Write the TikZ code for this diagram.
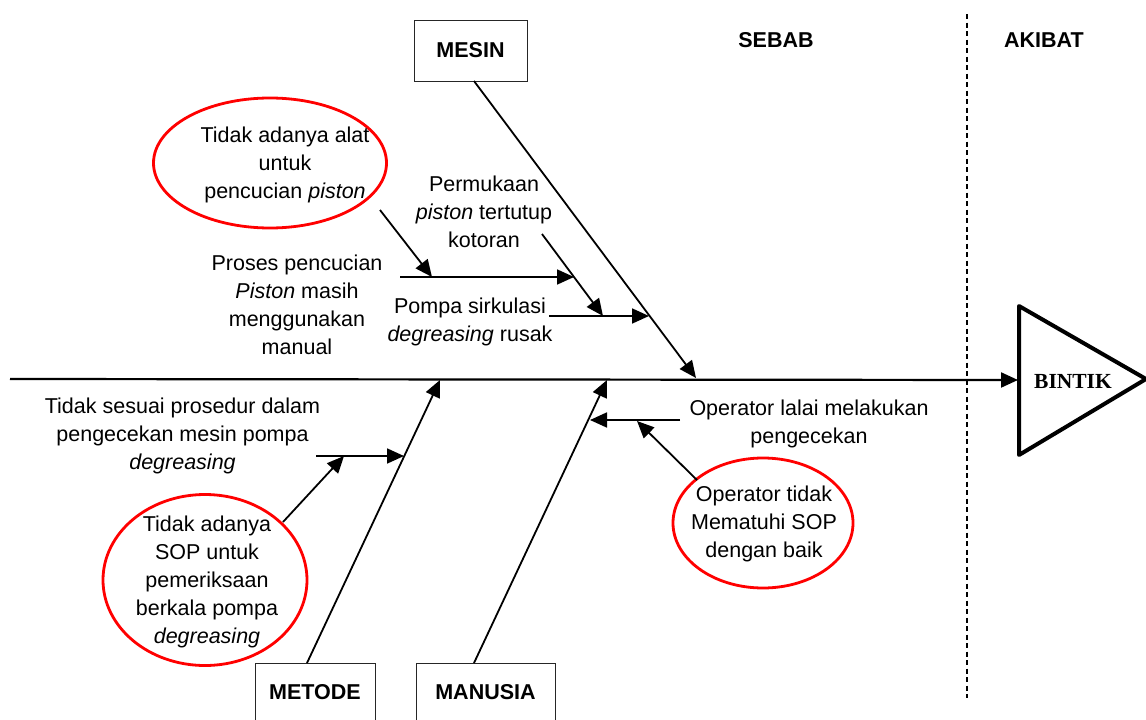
\documentclass[tikz,border=0pt]{standalone}
\usepackage{fontspec}
\setmainfont{Liberation Sans}
\newfontfamily\serifbold{Liberation Serif}
\usetikzlibrary{shapes.geometric,arrows.meta}
\begin{document}
\begin{tikzpicture}[x=1pt,y=-1pt,
  lbl/.style={font=\fontsize{21.5}{28}\selectfont, align=center, inner sep=0pt},
  hdr/.style={font=\fontsize{21.5}{26}\selectfont\bfseries, inner sep=0pt},
  catbox/.style={draw=black!85, line width=1pt, fill=white, inner sep=0pt,
    font=\fontsize{21.5}{26}\selectfont\bfseries},
  rootcause/.style={ellipse, draw=red, line width=2.8pt, inner sep=0pt},
  arr/.style={line width=1.8pt, -{Triangle[length=17pt,width=15pt]}},
  bone/.style={line width=1.8pt, -{Triangle[length=17pt,width=15pt]}}]
\useasboundingbox (0,0) rectangle (1146,720);

% headings and separator
\node[hdr] (sebab) at (776,40) {SEBAB};
\node[hdr] (akibat) at (1044,40) {AKIBAT};
\coordinate (sepTop) at (967,14);
\coordinate (sepBot) at (967,698);
\draw[line width=2.8pt, dash pattern=on 5pt off 3.5pt] (sepTop) -- (sepBot);

% effect head
\coordinate (hA) at (1019,306);
\coordinate (hB) at (1146,379);
\coordinate (hC) at (1019,455);
\draw[line width=4pt, line join=round] (hA) -- (hB) -- (hC) -- cycle;
\node[font=\serifbold\fontsize{21.5}{26}\selectfont\bfseries, inner sep=0pt] (bintik) at (1073,381) {BINTIK};

% spine
\coordinate (spineStart) at (10,379);
\coordinate (spineEnd) at (1018,380);
\draw[bone, line width=2.2pt] (spineStart) -- (spineEnd);

% category boxes
\node[catbox, minimum width=113pt, minimum height=61pt] (mesin) at (470.5,50.5) {MESIN};
\node[catbox, minimum width=120pt, minimum height=58pt] (metode) at (315,692) {METODE};
\node[catbox, minimum width=139pt, minimum height=58pt] (manusia) at (485.5,692) {MANUSIA};

% main bones
\coordinate (mesinFoot) at (474,81);
\coordinate (mesinTip) at (696,378);
\draw[bone] (mesinFoot) -- (mesinTip);
\coordinate (metodeFoot) at (307,663);
\coordinate (metodeTip) at (440,380);
\draw[bone] (metodeFoot) -- (metodeTip);
\coordinate (manusiaFoot) at (474,663);
\coordinate (manusiaTip) at (607,380);
\draw[bone] (manusiaFoot) -- (manusiaTip);

% MESIN causes
\node[rootcause, minimum width=233pt, minimum height=130pt] (alat) at (270,163) {};
\node[lbl] (alatText) at (285,165) {Tidak adanya alat\\untuk\\pencucian \textit{piston}};
\node[lbl] (proses) at (297,305) {Proses pencucian\\\textit{Piston} masih\\menggunakan\\manual};
\node[lbl] (permukaan) at (484,212) {Permukaan\\\textit{piston} tertutup\\kotoran};
\node[lbl] (pompa) at (470,322) {Pompa sirkulasi\\\textit{degreasing} rusak};

\coordinate (prosesA) at (400,277);
\coordinate (prosesB) at (574,277);
\draw[arr] (prosesA) -- (prosesB);
\coordinate (alatFrom) at (380,210);
\coordinate (alatTo) at (432,277);
\draw[arr] (alatFrom) -- (alatTo);
\coordinate (permA) at (542,234);
\coordinate (permB) at (603,316);
\draw[arr] (permA) -- (permB);
\coordinate (pompaA) at (549,316);
\coordinate (pompaB) at (649,316);
\draw[arr] (pompaA) -- (pompaB);

% METODE causes
\node[lbl] (prosedur) at (182.5,436) {Tidak sesuai prosedur dalam\\pengecekan mesin pompa\\\textit{degreasing}};
\node[rootcause, minimum width=204pt, minimum height=171pt] (sop) at (205,580) {};
\node[lbl] (sopText) at (207,582) {Tidak adanya\\SOP untuk\\pemeriksaan\\berkala pompa\\\textit{degreasing}};
\coordinate (prosA) at (316,456);
\coordinate (prosB) at (404,456);
\draw[arr] (prosA) -- (prosB);
\coordinate (sopFrom) at (283,522);
\coordinate (sopTo) at (344,456);
\draw[arr] (sopFrom) -- (sopTo);

% MANUSIA causes
\node[lbl] (lalai) at (809,424) {Operator lalai melakukan\\pengecekan};
\node[rootcause, minimum width=180pt, minimum height=130pt] (patuh) at (763,523) {};
\node[lbl] (patuhText) at (764,524) {Operator tidak\\Mematuhi SOP\\dengan baik};
\coordinate (lalaiA) at (680,420);
\coordinate (lalaiB) at (590,420);
\draw[arr] (lalaiA) -- (lalaiB);
\coordinate (patuhFrom) at (697,480);
\coordinate (patuhTo) at (637,421);
\draw[arr] (patuhFrom) -- (patuhTo);
\end{tikzpicture}
\end{document}
